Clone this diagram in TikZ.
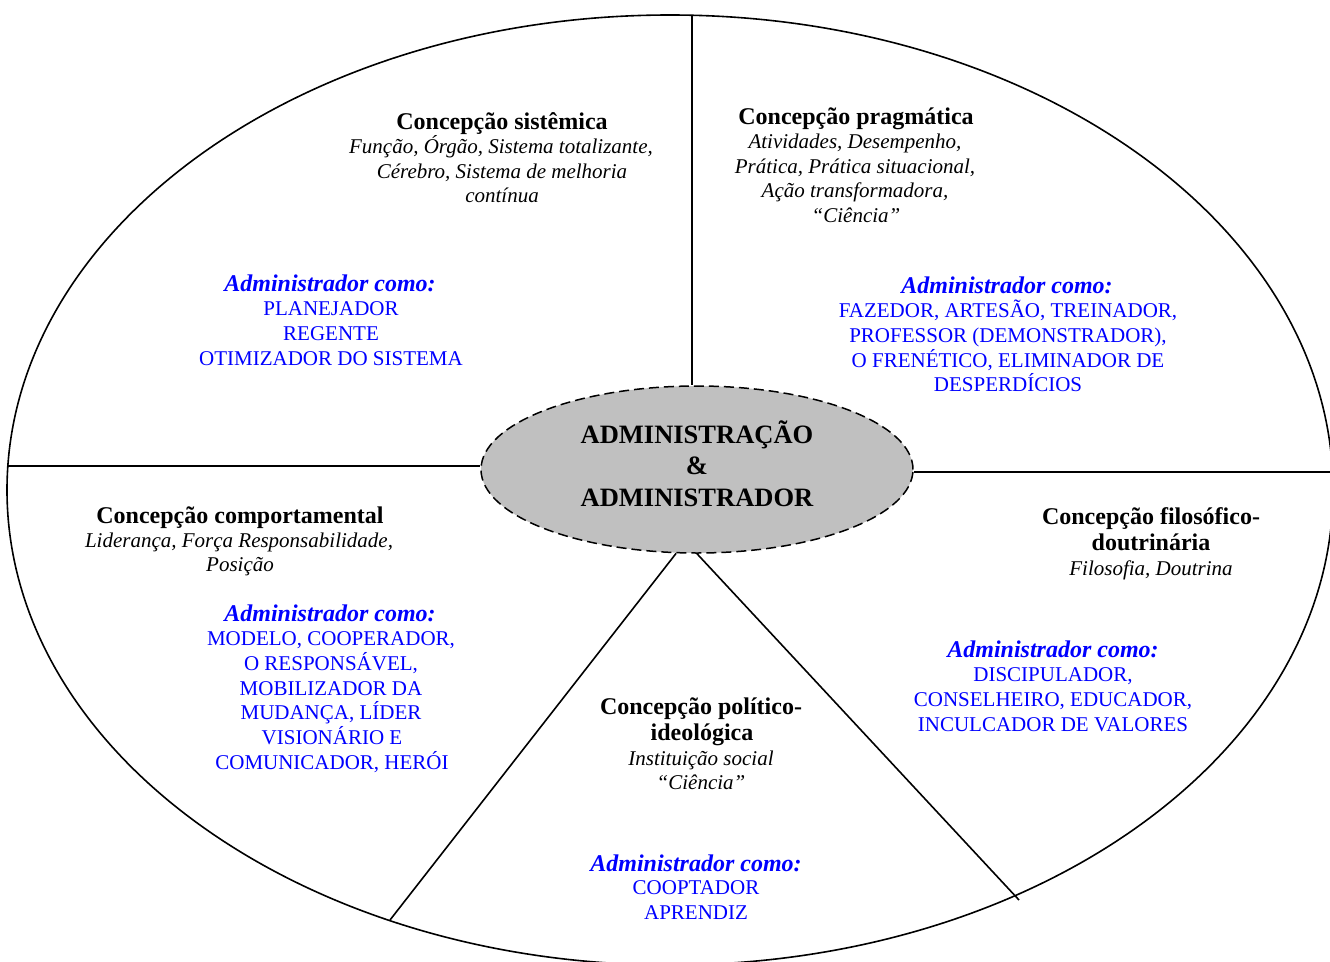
\documentclass[tikz,border=0pt]{standalone}
\usepackage{fontspec}
\setmainfont{Liberation Serif}
\usetikzlibrary{shapes.geometric}
\definecolor{cgray}{RGB}{192,192,192}
\definecolor{cblue}{RGB}{0,0,255}
\tikzset{
  txt/.style={inner sep=0pt, anchor=base, font=\fontsize{21}{25}\selectfont},
  head/.style={txt, font=\fontsize{24}{28}\selectfont\bfseries},
  ital/.style={txt, font=\fontsize{21}{25}\selectfont\itshape},
  adm/.style={txt, text=cblue, font=\fontsize{24}{28}\selectfont\bfseries\itshape},
  blu/.style={txt, text=cblue},
  big/.style={txt, font=\fontsize{26.5}{31}\selectfont\bfseries},
  edge/.style={line width=1.6pt, black},
}
\begin{document}
\begin{tikzpicture}[x=1pt,y=-1pt]
\useasboundingbox (0,0) rectangle (1330,961);
\clip (0,0) rectangle (1330,961);
% outer ellipse
\draw[edge] (670,490) ellipse [x radius=663pt, y radius=475pt];
% centre
\node[ellipse, draw, dashed, dash pattern=on 10pt off 5pt, line width=1.5pt, fill=cgray,
      minimum width=432pt, minimum height=167pt, inner sep=0pt] (cen) at (697,469.5) {};
\node[big] (c1) at (697,443) {ADMINISTRAÇÃO};
\node[big] (c2) at (697,474.5) {\&};
\node[big] (c3) at (697,506) {ADMINISTRADOR};
% free ends on the outer ellipse
\coordinate (vt) at (692,15);
\coordinate (lf) at (8,466);
\coordinate (rt) at (1336,472);
\coordinate (bl) at (390,920);
\coordinate (br) at (1019,900);
\draw[edge] (vt) -- (vt |- cen.north);
\draw[edge] (lf) -- (lf -| cen.west);
\draw[edge] (rt -| cen.east) -- (rt);
\draw[edge] (cen.256) -- (bl);
\draw[edge] (cen.south) -- (br);
% sistemica
\node[head] (a1) at (502,129) {Concepção sistêmica};
\node[ital] (a2) at (501,153) {Função, Órgão, Sistema totalizante,};
\node[ital] (a3) at (502,178) {Cérebro, Sistema de melhoria};
\node[ital] (a4) at (502,202) {contínua};
\node[adm] (a5) at (330,291) {Administrador como:};
\node[blu] (a6) at (331,315) {PLANEJADOR};
\node[blu] (a7) at (331,340) {REGENTE};
\node[blu] (a8) at (331,365) {OTIMIZADOR DO SISTEMA};
% pragmatica
\node[head] (b1) at (856,124) {Concepção pragmática};
\node[ital] (b2) at (855,148) {Atividades, Desempenho,};
\node[ital] (b3) at (855,173) {Prática, Prática situacional,};
\node[ital] (b4) at (855,197) {Ação transformadora,};
\node[ital] (b5) at (856,222) {“Ciência”};
\node[adm] (b6) at (1007,293) {Administrador como:};
\node[blu] (b7) at (1008,317) {FAZEDOR, ARTESÃO, TREINADOR,};
\node[blu] (b8) at (1008,342) {PROFESSOR (DEMONSTRADOR),};
\node[blu] (b9) at (1008,367) {O FRENÉTICO, ELIMINADOR DE};
\node[blu] (b10) at (1008,391) {DESPERDÍCIOS};
% comportamental
\node[head] (d1) at (240,523) {Concepção comportamental};
\node[ital] (d2) at (239,547) {Liderança, Força Responsabilidade,};
\node[ital] (d3) at (240,571) {Posição};
\node[adm] (d4) at (330,621) {Administrador como:};
\node[blu] (d5) at (331,645) {MODELO, COOPERADOR,};
\node[blu] (d6) at (331,670) {O RESPONSÁVEL,};
\node[blu] (d7) at (331,695) {MOBILIZADOR DA};
\node[blu] (d8) at (331,719) {MUDANÇA, LÍDER};
\node[blu] (d9) at (332,744) {VISIONÁRIO E};
\node[blu] (d10) at (332,769) {COMUNICADOR, HERÓI};
% filosofico
\node[head] (e1) at (1151,524) {Concepção filosófico-};
\node[head] (e2) at (1151,550) {doutrinária};
\node[ital] (e3) at (1151,575) {Filosofia, Doutrina};
\node[adm] (e4) at (1053,657) {Administrador como:};
\node[blu] (e5) at (1053,681) {DISCIPULADOR,};
\node[blu] (e6) at (1053,706) {CONSELHEIRO, EDUCADOR,};
\node[blu] (e7) at (1053,731) {INCULCADOR DE VALORES};
% politico
\node[head] (f1) at (701,714) {Concepção político-};
\node[head] (f2) at (702,740) {ideológica};
\node[ital] (f3) at (701,765) {Instituição social};
\node[ital] (f4) at (701,789) {“Ciência”};
\node[adm] (f5) at (696,871) {Administrador como:};
\node[blu] (f6) at (696,894) {COOPTADOR};
\node[blu] (f7) at (696,919) {APRENDIZ};
\end{tikzpicture}
\end{document}
